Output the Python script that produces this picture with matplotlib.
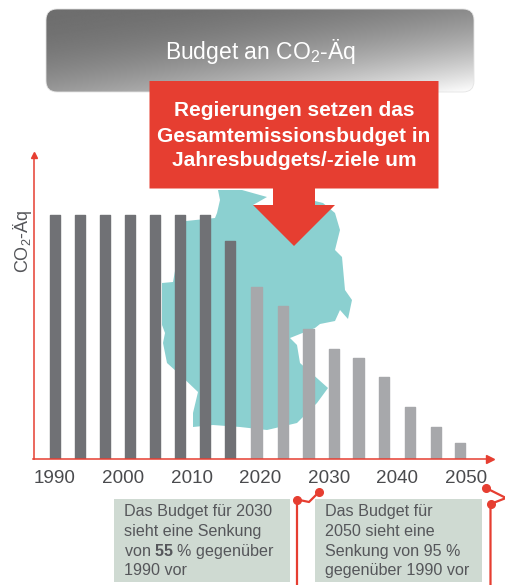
import numpy as np
from matplotlib import pyplot as plt
from matplotlib.patches import FancyBboxPatch, Polygon, Rectangle

plt.rcParams['font.family'] = ['Liberation Sans', 'DejaVu Sans']
plt.rcParams['mathtext.fontset'] = 'custom'
plt.rcParams['mathtext.rm'] = 'Liberation Sans'
plt.rcParams['mathtext.bf'] = 'Liberation Sans:bold'
plt.rcParams['mathtext.default'] = 'regular'

# bars, values in % of the 1990 budget
bar_years = [1990.0, 1993.7, 1997.3, 2001.0, 2004.6, 2008.3, 2011.9, 2015.6, 2019.4,
             2023.3, 2027.0, 2030.7, 2034.3, 2038.0, 2041.8, 2045.6, 2049.1]
budget = [100, 100, 100, 100, 100, 100, 100, 89.2, 70.3,
          62.7, 53.1, 44.8, 41.2, 33.5, 21.2, 13, 6.2]
past_count = 8
tick_years = [1990, 2000, 2010, 2020, 2030, 2040, 2050]

W, H = 505, 585
DARK = "#707175"
LIGHT = "#a7a8ab"
RED = "#e63e31"
TEXT = "#55565a"
TEAL = "#8bd0d0"
BOX = "#cfdad2"

# outline of the map behind the bars, in pixels
germany = [(218, 190), (242, 190), (267, 197), (253, 205), (273, 205), (315, 201), (323, 203),
           (335, 213), (340, 230), (335, 250), (342, 257), (345, 290), (352, 300), (348, 319),
           (340, 310), (335, 321), (320, 324), (315, 328), (290, 338), (297, 345), (300, 363),
           (328, 388), (317, 403), (297, 423), (267, 430), (240, 427), (213, 425), (193, 427),
           (193, 413), (198, 392), (177, 372), (167, 363), (163, 343), (165, 333), (162, 325),
           (162, 283), (173, 282), (177, 260), (186, 221), (215, 218), (217, 213), (220, 200)]

fig = plt.figure(figsize=(W / 100, H / 100), dpi=100)


def pixel_axes(z):
    a = fig.add_axes([0, 0, 1, 1], zorder=z)
    a.set_xlim(0, W)
    a.set_ylim(H, 0)
    a.axis("off")
    a.patch.set_alpha(0)
    return a


back = pixel_axes(0)
back.add_patch(Polygon(germany, closed=True, fc=TEAL, ec="none"))

# chart
left, right, top, base = 33.5, 490, 155, 458.5
ax = fig.add_axes([left / W, 1 - base / H, (right - left) / W, (base - top) / H], zorder=1)
ax.patch.set_alpha(0)
ax.set_xlim(1990 + (left - 55) / 6.85, 1990 + (right - 55) / 6.85)
ax.set_ylim(0, 124.7)
colors = [DARK] * past_count + [LIGHT] * (len(budget) - past_count)
ax.bar(bar_years, budget, width=1.5, color=colors, edgecolor=colors, linewidth=1.0, joinstyle="round")

for s in ["top", "right"]:
    ax.spines[s].set_visible(False)
for s in ["left", "bottom"]:
    ax.spines[s].set_color(RED)
    ax.spines[s].set_linewidth(1.1)
ax.plot(1, 0, ">", color=RED, ms=6, transform=ax.transAxes, clip_on=False)
ax.plot(0, 1, "^", color=RED, ms=5, transform=ax.transAxes, clip_on=False)
ax.set_xticks(tick_years)
ax.set_yticks([])
ax.tick_params(axis="x", length=0, pad=8, labelsize=13.6, labelcolor="#4a4b4e")
ax.set_ylabel("CO$_2$-Äq", fontsize=13, color=TEXT)
ax.yaxis.set_label_coords(0.002, 0.717)

# header, callout and notes on top
over = pixel_axes(2)

header = FancyBboxPatch((46, 9), 428, 83, boxstyle="round,pad=0,rounding_size=11", fc="none", ec="#e4e4e4", lw=0.6)
over.add_patch(header)
yy, xx = np.mgrid[0:1:84j, 0:1:430j]
shade = np.clip(yy * 0.55 + xx * 0.45, 0, 1) ** 2
img = over.imshow(0.43 + 0.57 * shade, extent=(46, 474, 92, 9), cmap="gray", vmin=0, vmax=1,
                  aspect="auto", interpolation="bilinear")
img.set_clip_path(header)
over.set_xlim(0, W)
over.set_ylim(H, 0)
over.text(260, 52, "Budget an CO$_2$-Äq", color="white", fontsize=16.5, ha="center", va="center")

over.add_patch(Polygon([(149.5, 81), (438.5, 81), (438.5, 188.5), (315, 188.5), (315, 205), (335, 205),
                        (294, 246), (253, 205), (273, 205), (273, 188.5), (149.5, 188.5)],
                       closed=True, fc=RED, ec="none"))
for y, line in zip([111, 136, 161], ["Regierungen setzen das", "Gesamtemissionsbudget in", "Jahresbudgets/-ziele um"]):
    over.text(294, y, line, color="white", fontsize=15, fontweight="bold", ha="center", va="center")

over.add_patch(Rectangle((113.5, 499), 176.5, 83, fc=BOX, ec="none"))
over.add_patch(Rectangle((314.5, 499), 167, 83, fc=BOX, ec="none"))
left_note = ["Das Budget für 2030", "sieht eine Senkung", r"von $\mathbf{55}$ % gegenüber", "1990 vor"]
right_note = ["Das Budget für", "2050 sieht eine", "Senkung von 95 %", "gegenüber 1990 vor"]
for i in range(4):
    over.text(124, 511.5 + i * 19.8, left_note[i], color=TEXT, fontsize=11.6, va="center")
    over.text(325, 511.5 + i * 19.8, right_note[i], color=TEXT, fontsize=11.6, va="center")

# red leader lines
over.plot([297, 297, 309, 319], [585, 499.5, 502, 492], color=RED, lw=1.6, clip_on=True)
over.plot([297, 319], [499.5, 492], "o", color=RED, ms=5.5)
over.plot([490.5, 490.5, 506, 486], [585, 504, 498, 488], color=RED, lw=1.6, clip_on=True)
over.plot([490.5, 486], [504, 488], "o", color=RED, ms=5.5)

fig.savefig("out.png", dpi=100)
